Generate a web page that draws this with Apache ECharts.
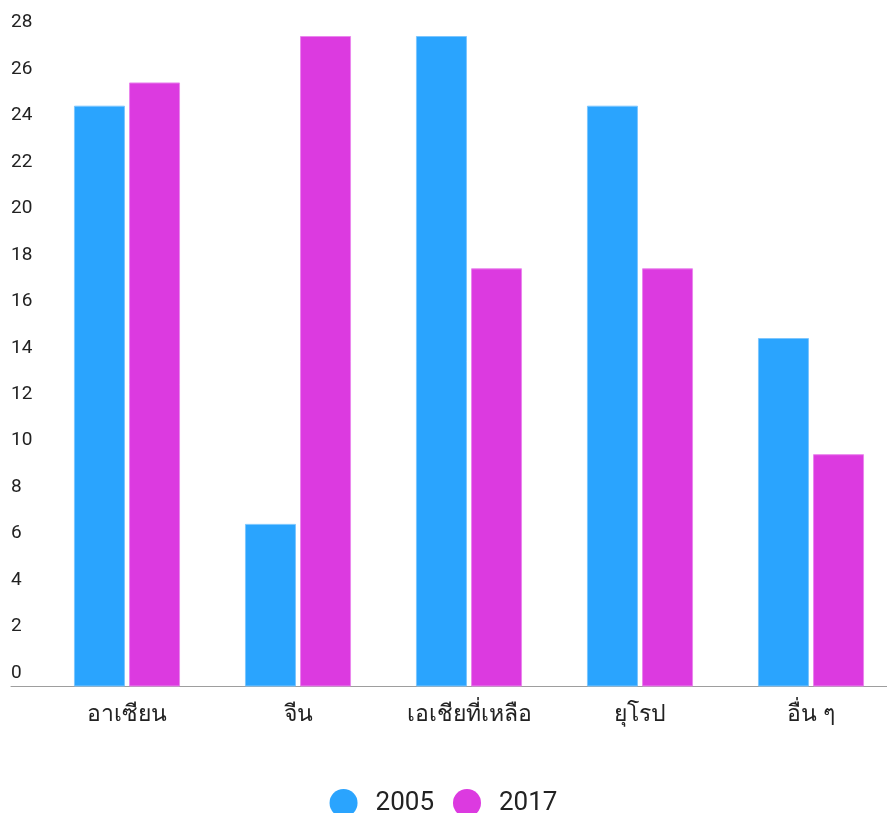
<!DOCTYPE html>
<html>
<head>
<meta charset="utf-8">
<script src="https://cdn.jsdelivr.net/npm/echarts@6/dist/echarts.min.js"></script>
<style>
html,body{margin:0;padding:0;background:#fff;}
#chart{width:887px;height:813px;}
</style>
</head>
<body>
<div id="chart"></div>
<script>
var categories = ['อาเซียน', 'จีน', 'เอเชียที่เหลือ', 'ยุโรป', 'อื่น ๆ'];
var series2005 = [25, 7, 28, 25, 15];
var series2017 = [26, 28, 18, 18, 10];
var seriesNames = ['2005', '2017'];

var font = 'Roboto, "Noto Sans", sans-serif';
var chart = echarts.init(document.getElementById('chart'));
chart.setOption({
  backgroundColor: '#fff',
  animation: false,
  textStyle: { fontFamily: font },
  legend: {
    data: seriesNames,
    left: 'center',
    top: 784,
    icon: 'circle',
    itemWidth: 28,
    itemHeight: 28,
    itemGap: 19,
    itemStyle: { borderWidth: 0 },
    textStyle: { fontSize: 26, color: '#222', padding: [0, 0, 4, 13], fontFamily: font }
  },
  grid: [
    { left: 41.5, width: 855, top: 36, bottom: 126.5, containLabel: false, outerBoundsMode: 'none' },
    { left: 11, right: 0, top: 36, bottom: 126.5, containLabel: false, outerBoundsMode: 'none' }
  ],
  xAxis: [
    {
      type: 'category',
      gridIndex: 0,
      data: categories,
      axisLine: { show: false },
      axisTick: { show: false },
      axisLabel: { fontSize: 23, color: '#222', margin: 17, fontFamily: font }
    },
    {
      type: 'value',
      gridIndex: 1,
      min: 0, max: 1,
      axisLine: { show: true, onZero: false, lineStyle: { color: '#9e9e9e', width: 1 } },
      axisTick: { show: false },
      axisLabel: { show: false },
      splitLine: { show: false }
    }
  ],
  yAxis: [
    {
      type: 'value',
      gridIndex: 0,
      min: 0,
      max: 28,
      interval: 2,
      axisLine: { show: false },
      axisTick: { show: false },
      splitLine: { show: false },
      axisLabel: {
        fontSize: 19,
        color: '#222',
        align: 'left',
        verticalAlign: 'bottom',
        margin: 30.5,
        padding: [0, 0, 4, 0],
        fontFamily: font
      }
    },
    {
      type: 'value',
      gridIndex: 1,
      min: 0, max: 1,
      show: false
    }
  ],
  series: [
    {
      name: seriesNames[0],
      type: 'bar',
      data: series2005,
      barWidth: 51,
      barGap: '8%',
      itemStyle: { color: '#2AA4FE', borderColor: '#7cc6fe', borderWidth: 1 }
    },
    {
      name: seriesNames[1],
      type: 'bar',
      data: series2017,
      barWidth: 51,
      barGap: '8%',
      itemStyle: { color: '#DC3AE0', borderColor: '#ea86ed', borderWidth: 1 }
    }
  ]
});
</script>
</body>
</html>
